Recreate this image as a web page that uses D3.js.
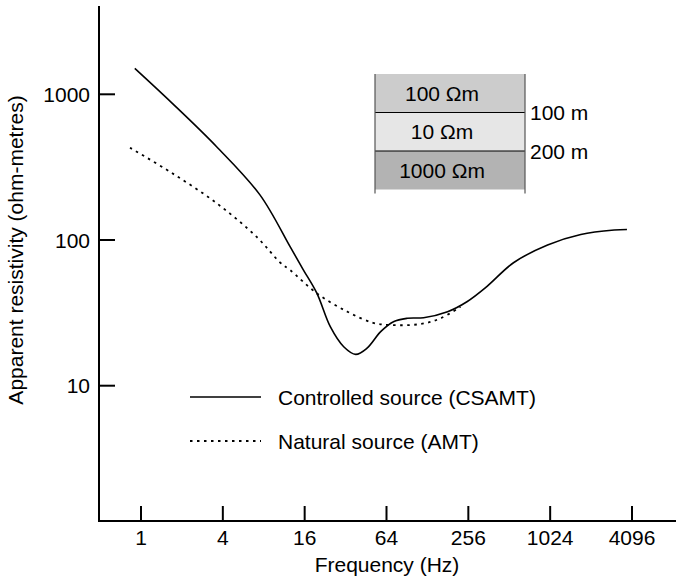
<!DOCTYPE html>
<html lang="en">
  <head>
    <meta charset="UTF-8" />
    <title>CSAMT vs AMT apparent resistivity</title>
    <script src="https://d3js.org/d3.v7.min.js"></script>
    <style>
      body {
        margin: 0;
        background: #fff;
      }
      svg {
        display: block;
        font-family: "Liberation Sans", Arial, Helvetica, sans-serif;
      }
      .axis-line {
        stroke: #000;
        stroke-width: 2px;
        fill: none;
      }
      .tick-label,
      .title {
        font-size: 21px;
        fill: #000;
      }
      .curve {
        fill: none;
        stroke: #000;
      }
      .solid {
        stroke-width: 1.6px;
      }
      .dotted {
        stroke-width: 1.8px;
        stroke-dasharray: 2.5 4.5;
      }
    </style>
  </head>
  <body>
    <svg id="chart" width="676" height="580"></svg>

    <script>
      // Datos
      const freqTicks = [1, 4, 16, 64, 256, 1024, 4096];
      const rhoTicks = [10, 100, 1000];

      // Controlled source (CSAMT)
      const csamtFreq = [0.9, 1.7, 3.6, 7.5, 12.5, 15.6, 19.7, 24.7, 31, 38, 46, 58, 72, 91, 120, 180, 250, 350, 550, 980, 1720, 3030, 3760];
      const csamtRho = [1507, 867, 437, 204, 90, 62.7, 43, 25.4, 18.5, 16.4, 18.1, 23.5, 27.5, 29.0, 29.3, 32.2, 37.7, 47.9, 69.8, 92.4, 109, 117, 118];

      // Natural source (AMT)
      const amtFreq = [0.83, 1.7, 3.6, 7.1, 10.6, 12.5, 19.7, 33, 51, 68, 114, 160, 224];
      const amtRho = [430, 287, 179, 105, 69.8, 62.2, 43, 32.2, 27.0, 26.1, 26.5, 29.0, 34.8];

      // Modelo de capas
      const layerLabels = ["100 \u03a9m", "10 \u03a9m", "1000 \u03a9m"];
      const layerFills = ["#cccccc", "#e6e6e6", "#b3b3b3"];
      const depthLabels = ["100 m", "200 m"];

      const legendLabels = ["Controlled source (CSAMT)", "Natural source (AMT)"];

      const svg = d3.select("#chart");

      // Marco de los ejes
      const frame = { left: 99, bottom: 521, top: 6, right: 676 };

      // Escalas
      const x = d3.scaleLog().base(4).domain([1, 4096]).range([141, 632]);
      const y = d3.scaleLog().domain([10, 1000]).range([385.7, 94.3]);

      // Ejes
      svg
        .append("path")
        .attr("class", "axis-line")
        .attr("d", `M${frame.left},${frame.top}V${frame.bottom}H${frame.right}`);

      const gx = svg.append("g");
      gx.selectAll("line")
        .data(freqTicks)
        .join("line")
        .attr("class", "axis-line")
        .attr("x1", (d) => x(d))
        .attr("x2", (d) => x(d))
        .attr("y1", frame.bottom)
        .attr("y2", frame.bottom - 15);
      gx.selectAll("text")
        .data(freqTicks)
        .join("text")
        .attr("class", "tick-label")
        .attr("x", (d) => x(d))
        .attr("y", frame.bottom + 24)
        .attr("text-anchor", "middle")
        .text((d) => d);

      const gy = svg.append("g");
      gy.selectAll("line")
        .data(rhoTicks)
        .join("line")
        .attr("class", "axis-line")
        .attr("x1", frame.left)
        .attr("x2", frame.left + 16)
        .attr("y1", (d) => y(d))
        .attr("y2", (d) => y(d));
      gy.selectAll("text")
        .data(rhoTicks)
        .join("text")
        .attr("class", "tick-label")
        .attr("x", frame.left - 9)
        .attr("y", (d) => y(d))
        .attr("dy", "0.36em")
        .attr("text-anchor", "end")
        .text((d) => d);

      svg
        .append("text")
        .attr("class", "title")
        .attr("x", 387)
        .attr("y", 572)
        .attr("text-anchor", "middle")
        .text("Frequency (Hz)");

      svg
        .append("text")
        .attr("class", "title")
        .attr("transform", "translate(23,250) rotate(-90)")
        .attr("text-anchor", "middle")
        .text("Apparent resistivity (ohm-metres)");

      // Curvas
      const line = d3
        .line()
        .x((d) => x(d[0]))
        .y((d) => y(d[1]))
        .curve(d3.curveCatmullRom.alpha(0.5));

      svg
        .append("path")
        .attr("class", "curve dotted")
        .attr("d", line(d3.zip(amtFreq, amtRho)));

      svg
        .append("path")
        .attr("class", "curve solid")
        .attr("d", line(d3.zip(csamtFreq, csamtRho)));

      // Leyenda
      const legend = svg.append("g");
      legend
        .selectAll("line")
        .data(legendLabels)
        .join("line")
        .attr("class", (d, i) => (i === 0 ? "curve solid" : "curve dotted"))
        .attr("x1", 190)
        .attr("x2", 261)
        .attr("y1", (d, i) => 397 + i * 44)
        .attr("y2", (d, i) => 397 + i * 44);
      legend
        .selectAll("text")
        .data(legendLabels)
        .join("text")
        .attr("class", "title")
        .attr("x", 278)
        .attr("y", (d, i) => 397 + i * 44)
        .attr("dy", "0.36em")
        .text((d) => d);

      // Modelo de capas (recuadro)
      const inset = svg.append("g").attr("transform", "translate(375,74)");
      const layerH = 38.5;
      const insetW = 150;
      inset
        .selectAll("rect")
        .data(layerFills)
        .join("rect")
        .attr("x", 0)
        .attr("y", (d, i) => i * layerH)
        .attr("width", insetW)
        .attr("height", layerH)
        .attr("fill", (d) => d);
      inset
        .selectAll(".sep")
        .data(depthLabels)
        .join("line")
        .attr("class", "sep")
        .attr("x1", 0)
        .attr("x2", insetW)
        .attr("y1", (d, i) => (i + 1) * layerH)
        .attr("y2", (d, i) => (i + 1) * layerH)
        .attr("stroke", "#000")
        .attr("stroke-width", 1.2);
      inset
        .selectAll(".side")
        .data([0, insetW])
        .join("line")
        .attr("class", "side")
        .attr("x1", (d) => d)
        .attr("x2", (d) => d)
        .attr("y1", 0)
        .attr("y2", layerH * 3 + 4)
        .attr("stroke", "#555")
        .attr("stroke-width", 1.2);
      inset
        .selectAll(".layer-label")
        .data(layerLabels)
        .join("text")
        .attr("class", "layer-label title")
        .attr("x", insetW / 2 - 8)
        .attr("y", (d, i) => i * layerH + layerH / 2)
        .attr("dy", "0.36em")
        .attr("text-anchor", "middle")
        .text((d) => d);
      inset
        .selectAll(".depth-label")
        .data(depthLabels)
        .join("text")
        .attr("class", "depth-label title")
        .attr("x", insetW + 5)
        .attr("y", (d, i) => (i + 1) * layerH)
        .attr("dy", "0.36em")
        .text((d) => d);
    </script>
  </body>
</html>
